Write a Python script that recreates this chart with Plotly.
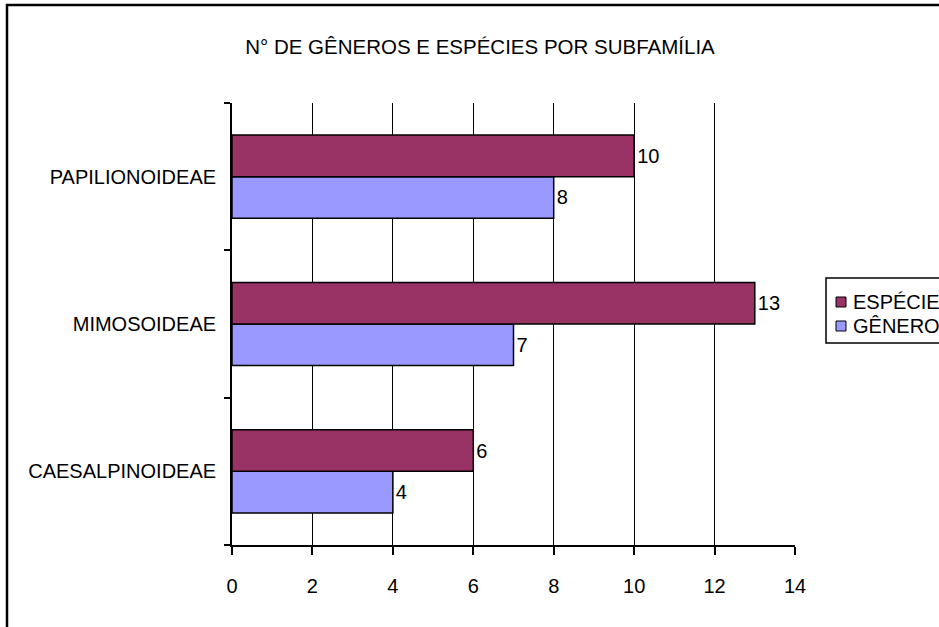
import plotly.graph_objects as go

categories = ["CAESALPINOIDEAE", "MIMOSOIDEAE", "PAPILIONOIDEAE"]
genero = [4, 7, 8]
especie = [6, 13, 10]
x_ticks = [0, 2, 4, 6, 8, 10, 12, 14]
series_names = ["ESPÉCIE", "GÊNERO"]
series_colors = ["#993366", "#9999FF"]

FONT = "Liberation Sans, Arial, sans-serif"
FS = 20

W, H = 939, 627
L, R, T, B = 232, 144, 103, 82
pw, ph = W - L - R, H - T - B


def px_x(p):
    return (p - L) / pw


def px_y(p):
    return (H - B - p) / ph


fig = go.Figure()
fig.add_trace(go.Bar(
    y=categories, x=genero, name=series_names[1], orientation="h",
    marker=dict(color=series_colors[1], line=dict(color="black", width=1.5)),
    text=[str(v) for v in genero], textposition="outside",
    textfont=dict(family=FONT, size=FS, color="black"), cliponaxis=False,
))
fig.add_trace(go.Bar(
    y=categories, x=especie, name=series_names[0], orientation="h",
    marker=dict(color=series_colors[0], line=dict(color="black", width=1.5)),
    text=[str(v) for v in especie], textposition="outside",
    textfont=dict(family=FONT, size=FS, color="black"), cliponaxis=False,
))

shapes = [
    # outer chart frame
    dict(type="rect", xref="paper", yref="paper",
         x0=px_x(7), x1=px_x(W + 10), y0=px_y(H + 10), y1=px_y(5),
         line=dict(color="black", width=2.5), fillcolor="rgba(0,0,0,0)", layer="below"),
    # legend box
    dict(type="rect", xref="paper", yref="paper",
         x0=px_x(826), x1=px_x(W + 10), y0=px_y(343), y1=px_y(278),
         line=dict(color="black", width=1.5), fillcolor="white", layer="above"),
]
annotations = []
for i, (nm, col) in enumerate(zip(series_names, series_colors)):
    cy = 302 + i * 24
    shapes.append(dict(type="rect", xref="paper", yref="paper",
                       x0=px_x(836), x1=px_x(846), y0=px_y(cy + 5), y1=px_y(cy - 5),
                       line=dict(color="black", width=1), fillcolor=col, layer="above"))
    annotations.append(dict(text=nm, xref="paper", yref="paper",
                            x=px_x(851), y=px_y(cy), xanchor="left", yanchor="middle",
                            showarrow=False, font=dict(family=FONT, size=FS, color="black")))

fig.update_layout(
    width=W, height=H,
    margin=dict(l=L, r=R, t=T, b=B, autoexpand=False),
    paper_bgcolor="white", plot_bgcolor="white",
    barmode="group", bargap=0.435, bargroupgap=0,
    font=dict(family=FONT, size=FS, color="black"),
    title=dict(text="N° DE GÊNEROS E ESPÉCIES POR SUBFAMÍLIA",
               x=480 / W, xanchor="center", y=1 - 47 / H, yanchor="middle",
               font=dict(family=FONT, size=20.5, color="black")),
    showlegend=False,
    xaxis=dict(range=[0, 14], tickvals=x_ticks, ticktext=[str(v) for v in x_ticks],
               showgrid=True, gridcolor="black", gridwidth=1.2,
               showline=True, linecolor="black", linewidth=1.8,
               ticks="outside", ticklen=8, tickwidth=1.5, tickcolor="black",
               ticklabelstandoff=14, zeroline=False, fixedrange=True),
    yaxis=dict(categoryorder="array", categoryarray=categories,
               showline=True, linecolor="black", linewidth=1.8,
               ticks="outside", ticklen=6, tickwidth=1.5, tickcolor="black",
               tickson="boundaries", showgrid=False, ticklabelstandoff=10),
    shapes=shapes,
    annotations=annotations,
)

fig.write_html("out.html")
